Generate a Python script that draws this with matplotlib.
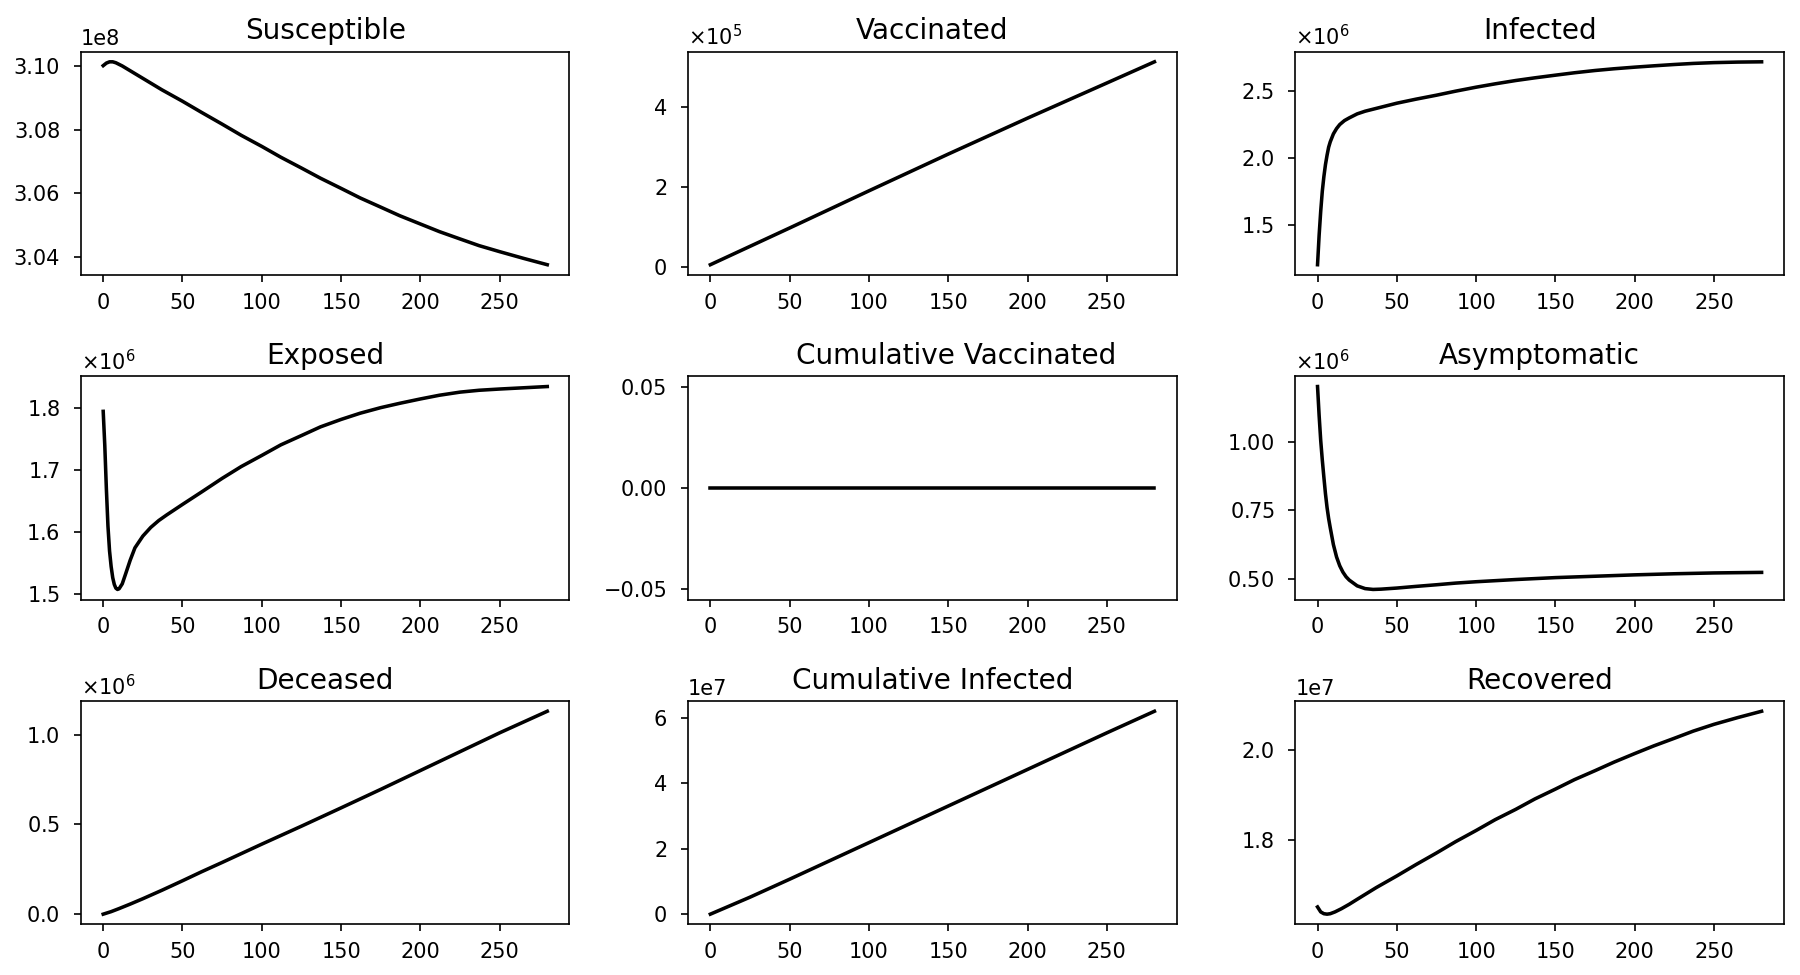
import matplotlib
matplotlib.use("Agg")
import matplotlib.pyplot as plt
from matplotlib.ticker import ScalarFormatter, MaxNLocator

# values (days, population)
t_susceptible = [0, 2, 4, 6, 8, 12, 16, 20, 25, 37, 50, 62, 75, 87, 100, 112, 125, 137, 150,
                 162, 175, 187, 200, 212, 225, 237, 250, 265, 280]
susceptible = [3.1002e8, 3.1010e8, 3.1014e8, 3.1014e8, 3.1011e8, 3.1001e8, 3.0989e8, 3.0977e8,
               3.0962e8, 3.0926e8, 3.0890e8, 3.0855e8, 3.0818e8, 3.0783e8, 3.0748e8, 3.0714e8,
               3.0680e8, 3.0648e8, 3.0616e8, 3.0586e8, 3.0557e8, 3.0530e8, 3.0504e8, 3.0480e8,
               3.0457e8, 3.0436e8, 3.0417e8, 3.0396e8, 3.0376e8]

t_vaccinated = [0, 50, 100, 150, 200, 250, 280]
vaccinated = [0.05e5, 0.97e5, 1.90e5, 2.82e5, 3.72e5, 4.60e5, 5.13e5]

t_infected = [0, 1, 2, 3, 4, 5, 6, 7, 8, 10, 12, 14, 17, 20, 25, 30, 40, 50, 62, 75, 87, 100,
              112, 125, 137, 150, 162, 175, 187, 200, 212, 225, 237, 250, 265, 280]
infected = [1.20e6, 1.42e6, 1.60e6, 1.75e6, 1.86e6, 1.95e6, 2.02e6, 2.08e6, 2.12e6, 2.18e6,
            2.22e6, 2.25e6, 2.28e6, 2.30e6, 2.33e6, 2.35e6, 2.38e6, 2.41e6, 2.44e6, 2.47e6,
            2.50e6, 2.53e6, 2.555e6, 2.58e6, 2.60e6, 2.62e6, 2.638e6, 2.655e6, 2.668e6, 2.68e6,
            2.69e6, 2.70e6, 2.708e6, 2.714e6, 2.718e6, 2.72e6]

t_exposed = [0, 1, 2, 3, 4, 5, 6, 7, 8, 9, 10, 12, 14, 17, 20, 25, 30, 35, 40, 50, 62, 75, 87,
             100, 112, 125, 137, 150, 162, 175, 187, 200, 212, 225, 237, 250, 265, 280]
exposed = [1.795e6, 1.74e6, 1.67e6, 1.61e6, 1.57e6, 1.545e6, 1.527e6, 1.516e6, 1.51e6, 1.508e6,
           1.509e6, 1.517e6, 1.532e6, 1.555e6, 1.575e6, 1.594e6, 1.608e6, 1.619e6, 1.628e6,
           1.645e6, 1.665e6, 1.687e6, 1.706e6, 1.724e6, 1.741e6, 1.756e6, 1.770e6, 1.782e6,
           1.792e6, 1.801e6, 1.808e6, 1.815e6, 1.821e6, 1.826e6, 1.829e6, 1.831e6, 1.833e6,
           1.835e6]

t_cum_vaccinated = [0, 280]
cum_vaccinated = [0.0, 0.0]

t_asymptomatic = [0, 1, 2, 3, 4, 5, 6, 7, 8, 10, 12, 14, 16, 18, 20, 25, 30, 35, 40, 50, 62,
                  75, 87, 100, 125, 150, 175, 200, 225, 250, 280]
asymptomatic = [1.20e6, 1.095e6, 1.004e6, 0.933e6, 0.87e6, 0.81e6, 0.76e6, 0.72e6, 0.687e6,
                0.625e6, 0.58e6, 0.548e6, 0.525e6, 0.508e6, 0.496e6, 0.475e6, 0.465e6, 0.462e6,
                0.463e6, 0.467e6, 0.473e6, 0.479e6, 0.485e6, 0.490e6, 0.498e6, 0.505e6,
                0.510e6, 0.515e6, 0.519e6, 0.522e6, 0.524e6]

t_deceased = [0, 5, 10, 17, 25, 37, 50, 62, 75, 100, 125, 150, 175, 200, 225, 250, 280]
deceased = [0.0, 0.014e6, 0.031e6, 0.056e6, 0.086e6, 0.133e6, 0.186e6, 0.236e6, 0.288e6,
            0.39e6, 0.49e6, 0.592e6, 0.695e6, 0.80e6, 0.905e6, 1.01e6, 1.13e6]

t_cum_infected = [0, 25, 50, 75, 100, 125, 150, 175, 200, 225, 250, 280]
cum_infected = [0.0, 0.52e7, 1.07e7, 1.63e7, 2.19e7, 2.75e7, 3.31e7, 3.87e7, 4.43e7, 4.99e7,
                5.55e7, 6.21e7]

t_recovered = [0, 2, 4, 6, 8, 11, 15, 20, 25, 37, 50, 62, 75, 87, 100, 112, 125, 137, 150, 162,
               175, 187, 200, 212, 225, 237, 250, 265, 280]
recovered = [1.652e7, 1.641e7, 1.637e7, 1.636e7, 1.637e7, 1.641e7, 1.648e7, 1.658e7, 1.669e7,
             1.695e7, 1.721e7, 1.746e7, 1.772e7, 1.797e7, 1.822e7, 1.846e7, 1.869e7, 1.892e7,
             1.914e7, 1.935e7, 1.955e7, 1.974e7, 1.993e7, 2.010e7, 2.027e7, 2.043e7, 2.058e7,
             2.073e7, 2.087e7]

titles = ["Susceptible", "Vaccinated", "Infected",
          "Exposed", "Cumulative Vaccinated", "Asymptomatic",
          "Deceased", "Cumulative Infected", "Recovered"]
series = [(t_susceptible, susceptible), (t_vaccinated, vaccinated), (t_infected, infected),
          (t_exposed, exposed), (t_cum_vaccinated, cum_vaccinated), (t_asymptomatic, asymptomatic),
          (t_deceased, deceased), (t_cum_infected, cum_infected), (t_recovered, recovered)]
# panels whose offset text is drawn as x10^n instead of 1eN
math_offset = [False, True, True, True, False, True, True, False, False]
# the "Cumulative Vaccinated" title sits a little right of centre in the original
title_x = [0.5, 0.5, 0.5, 0.5, 0.548, 0.5, 0.5, 0.5, 0.5]

plt.rcParams['font.size'] = 10
plt.rcParams['ytick.major.pad'] = 6.5
plt.rcParams['xtick.major.pad'] = 5

fig, axes = plt.subplots(3, 3, figsize=(12, 6.5), dpi=150)
fig.subplots_adjust(left=0.045, right=0.991, bottom=0.052, top=0.947, wspace=0.243, hspace=0.455)

for ax, title, (t, y), mt, tx in zip(axes.flat, titles, series, math_offset, title_x):
    ax.plot(t, y, color='black', linewidth=1.7)
    ax.set_title(title, fontsize=13.4, x=tx)
    fmt = ScalarFormatter(useMathText=mt)
    fmt.set_powerlimits((-4, 4))
    ax.yaxis.set_major_formatter(fmt)
    ax.yaxis.set_major_locator(MaxNLocator(nbins=4, steps=[1, 2, 2.5, 5, 10]))
    ax.set_xticks([0, 50, 100, 150, 200, 250])

fig.savefig("out.png", dpi=150)
